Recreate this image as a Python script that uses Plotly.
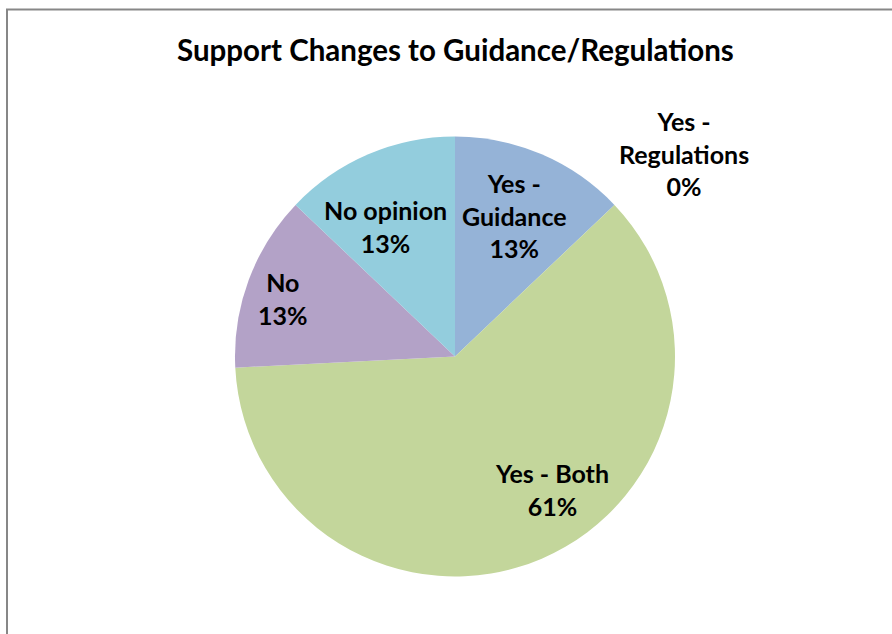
import plotly.graph_objects as go

# Survey responses (counts), listed clockwise from 12 o'clock
categories = ["Yes - Guidance", "Yes - Regulations", "Yes - Both", "No", "No opinion"]
counts = [4, 0, 19, 4, 4]
colors = ["#95B3D7", "#D99694", "#C3D69B", "#B3A2C7", "#93CDDD"]

# Label line breaks and label centres (pixels from top-left of the 892x634 canvas)
label_lines = [["Yes -", "Guidance"], ["Yes -", "Regulations"], ["Yes - Both"], ["No"], ["No opinion"]]
label_pos = [(514, 215), (684, 153), (552, 489), (283, 298), (385, 226)]

W, H = 892, 634
FONT = "Lato, 'Open Sans', sans-serif"

total = sum(counts)
pcts = [round(100 * c / total) for c in counts]

# Pie centre and radius in pixels
cx, cy, r = 455, 356.5, 220

fig = go.Figure(go.Pie(
    labels=categories,
    values=counts,
    sort=False,
    direction="clockwise",
    rotation=0,
    marker=dict(colors=colors, line=dict(width=0)),
    textinfo="none",
    hoverinfo="label+percent",
    showlegend=False,
    domain=dict(x=[(cx - r) / W, (cx + r) / W], y=[(H - cy - r) / H, (H - cy + r) / H]),
))

annotations = []
for lines, pct, (px, py) in zip(label_lines, pcts, label_pos):
    text = "<br>".join(lines + [f"{pct}%"])
    annotations.append(dict(
        x=px / W, y=1 - py / H, xref="paper", yref="paper",
        text=text, showarrow=False, align="center",
        xanchor="center", yanchor="middle",
        font=dict(family=FONT, size=25, color="#000000", weight="bold"),
    ))

annotations.append(dict(
    x=455 / W, y=1 - 50 / H, xref="paper", yref="paper",
    text="Support Changes to Guidance/Regulations", showarrow=False,
    xanchor="center", yanchor="middle",
    font=dict(family=FONT, size=29.5, color="#000000", weight="bold"),
))

fig.update_layout(
    width=W, height=H,
    margin=dict(l=0, r=0, t=0, b=0),
    paper_bgcolor="#FFFFFF",
    plot_bgcolor="#FFFFFF",
    annotations=annotations,
    shapes=[dict(
        type="rect", xref="paper", yref="paper",
        x0=7 / W, x1=1.05, y0=-0.05, y1=1 - 9.5 / H,
        line=dict(color="#878787", width=2),
        fillcolor="rgba(0,0,0,0)", layer="above",
    )],
)

fig.write_html("out.html")
